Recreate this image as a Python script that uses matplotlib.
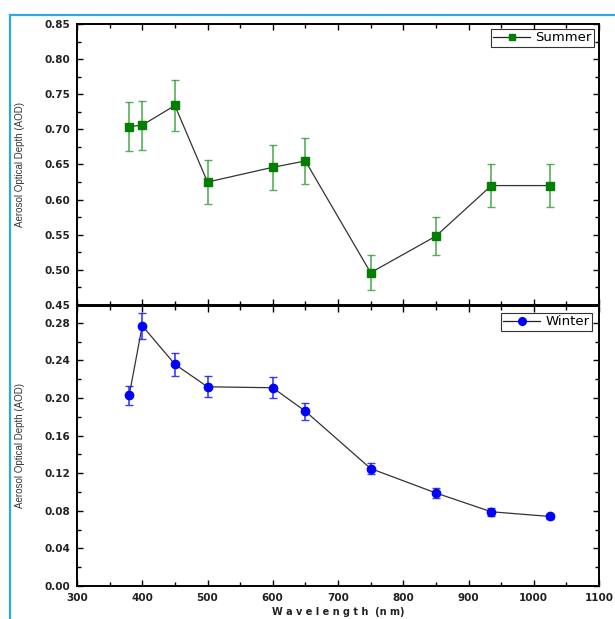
import matplotlib
matplotlib.use("Agg")
import matplotlib.pyplot as plt
from matplotlib.lines import Line2D
from matplotlib.ticker import MultipleLocator, FormatStrFormatter

wavelength = [380, 400, 450, 500, 600, 650, 750, 850, 935, 1025]
summer_aod = [0.704, 0.706, 0.734, 0.625, 0.646, 0.655, 0.496, 0.548, 0.620, 0.620]
summer_err = [0.035, 0.035, 0.036, 0.031, 0.032, 0.033, 0.025, 0.027, 0.031, 0.031]
winter_aod = [0.203, 0.277, 0.236, 0.212, 0.211, 0.186, 0.125, 0.099, 0.079, 0.074]
winter_err = [0.010, 0.014, 0.012, 0.011, 0.011, 0.009, 0.006, 0.005, 0.004, 0.003]

plt.rcParams['font.family'] = ['DejaVu Sans']

fig = plt.figure(figsize=(6.15, 6.19), dpi=100)
W, H = 615, 619
L, R = 77, 599
ax1 = fig.add_axes([L / W, 1 - 305 / H, (R - L) / W, (305 - 24) / H])
ax2 = fig.add_axes([L / W, 1 - 586 / H, (R - L) / W, (586 - 306) / H])

# blue frame
fig.add_artist(Line2D([10 / W, 1.0], [1 - 15 / H, 1 - 15 / H], transform=fig.transFigure,
                      color='#2ba8e6', lw=1.6))
fig.add_artist(Line2D([10 / W, 10 / W], [0, 1 - 15 / H], transform=fig.transFigure,
                      color='#2ba8e6', lw=1.6))

for ax in (ax1, ax2):
    ax.set_xlim(300, 1100)
    ax.xaxis.set_major_locator(MultipleLocator(100))
    ax.xaxis.set_minor_locator(MultipleLocator(50))
    ax.tick_params(which='both', direction='in', top=True, right=True, width=1.0, color='black')
    ax.tick_params(which='major', length=4, pad=5)
    ax.tick_params(which='minor', length=3)
    for s in ax.spines.values():
        s.set_linewidth(1.4)

# Summer
ax1.errorbar(wavelength, summer_aod, yerr=summer_err, fmt='none', ecolor='#2f9a2f',
             elinewidth=1.2, capsize=3, capthick=1.0, alpha=0.8, zorder=2)
ax1.plot(wavelength, summer_aod, color='#333333', lw=0.9, zorder=1)
ax1.plot(wavelength, summer_aod, linestyle='none', marker='s', markersize=5.5,
         color='#007f00', markeredgecolor='#007f00', zorder=3)
ax1.set_ylim(0.45, 0.85)
ax1.yaxis.set_major_locator(MultipleLocator(0.05))
ax1.yaxis.set_minor_locator(MultipleLocator(0.025))
ax1.yaxis.set_major_formatter(FormatStrFormatter('%.2f'))
ax1.tick_params(axis='x', labelbottom=False)
h1 = Line2D([], [], color='#222222', lw=0.9, marker='s', markersize=5,
            markerfacecolor='#007f00', markeredgecolor='#007f00')
leg1 = ax1.legend([h1], ['Summer'], loc='upper right', fontsize=9.5, frameon=True,
                  fancybox=False, edgecolor='black', handlelength=2.8, borderpad=0.2,
                  borderaxespad=0.35, handletextpad=0.4)
leg1.get_frame().set_linewidth(0.8)

# Winter
ax2.errorbar(wavelength, winter_aod, yerr=winter_err, fmt='none', ecolor='#1a1aff',
             elinewidth=1.2, capsize=3, capthick=1.0, alpha=0.85, zorder=2)
ax2.plot(wavelength, winter_aod, color='#333333', lw=0.9, zorder=1)
ax2.plot(wavelength, winter_aod, linestyle='none', marker='o', markersize=6,
         color='#0000ff', markeredgecolor='#0000ff', zorder=3)
ax2.set_ylim(0.0, 0.298)
ax2.yaxis.set_major_locator(MultipleLocator(0.04))
ax2.yaxis.set_minor_locator(MultipleLocator(0.02))
ax2.yaxis.set_major_formatter(FormatStrFormatter('%.2f'))
h2 = Line2D([], [], color='#222222', lw=0.9, marker='o', markersize=5.5,
            markerfacecolor='#0000ff', markeredgecolor='#0000ff')
leg2 = ax2.legend([h2], ['Winter'], loc='upper right', fontsize=9.5, frameon=True,
                  fancybox=False, edgecolor='black', handlelength=2.8, borderpad=0.2,
                  borderaxespad=0.5, handletextpad=0.4)
leg2.get_frame().set_linewidth(0.8)

for ax in (ax1, ax2):
    for lab in ax.get_yticklabels() + ax.get_xticklabels():
        lab.set_fontsize(7.5)
        lab.set_color('#222222')
        lab.set_fontweight('bold')
    ax.set_ylabel('Aerosol Optical Depth (AOD)', fontsize=7, color='#333333',
                  family='Liberation Sans', labelpad=14)

ax2.set_xlabel('W a v e l e n g t h  (n m)', fontsize=7, color='#222222',
               fontweight='bold', labelpad=3)

fig.savefig('out.png', dpi=100, facecolor='white')
